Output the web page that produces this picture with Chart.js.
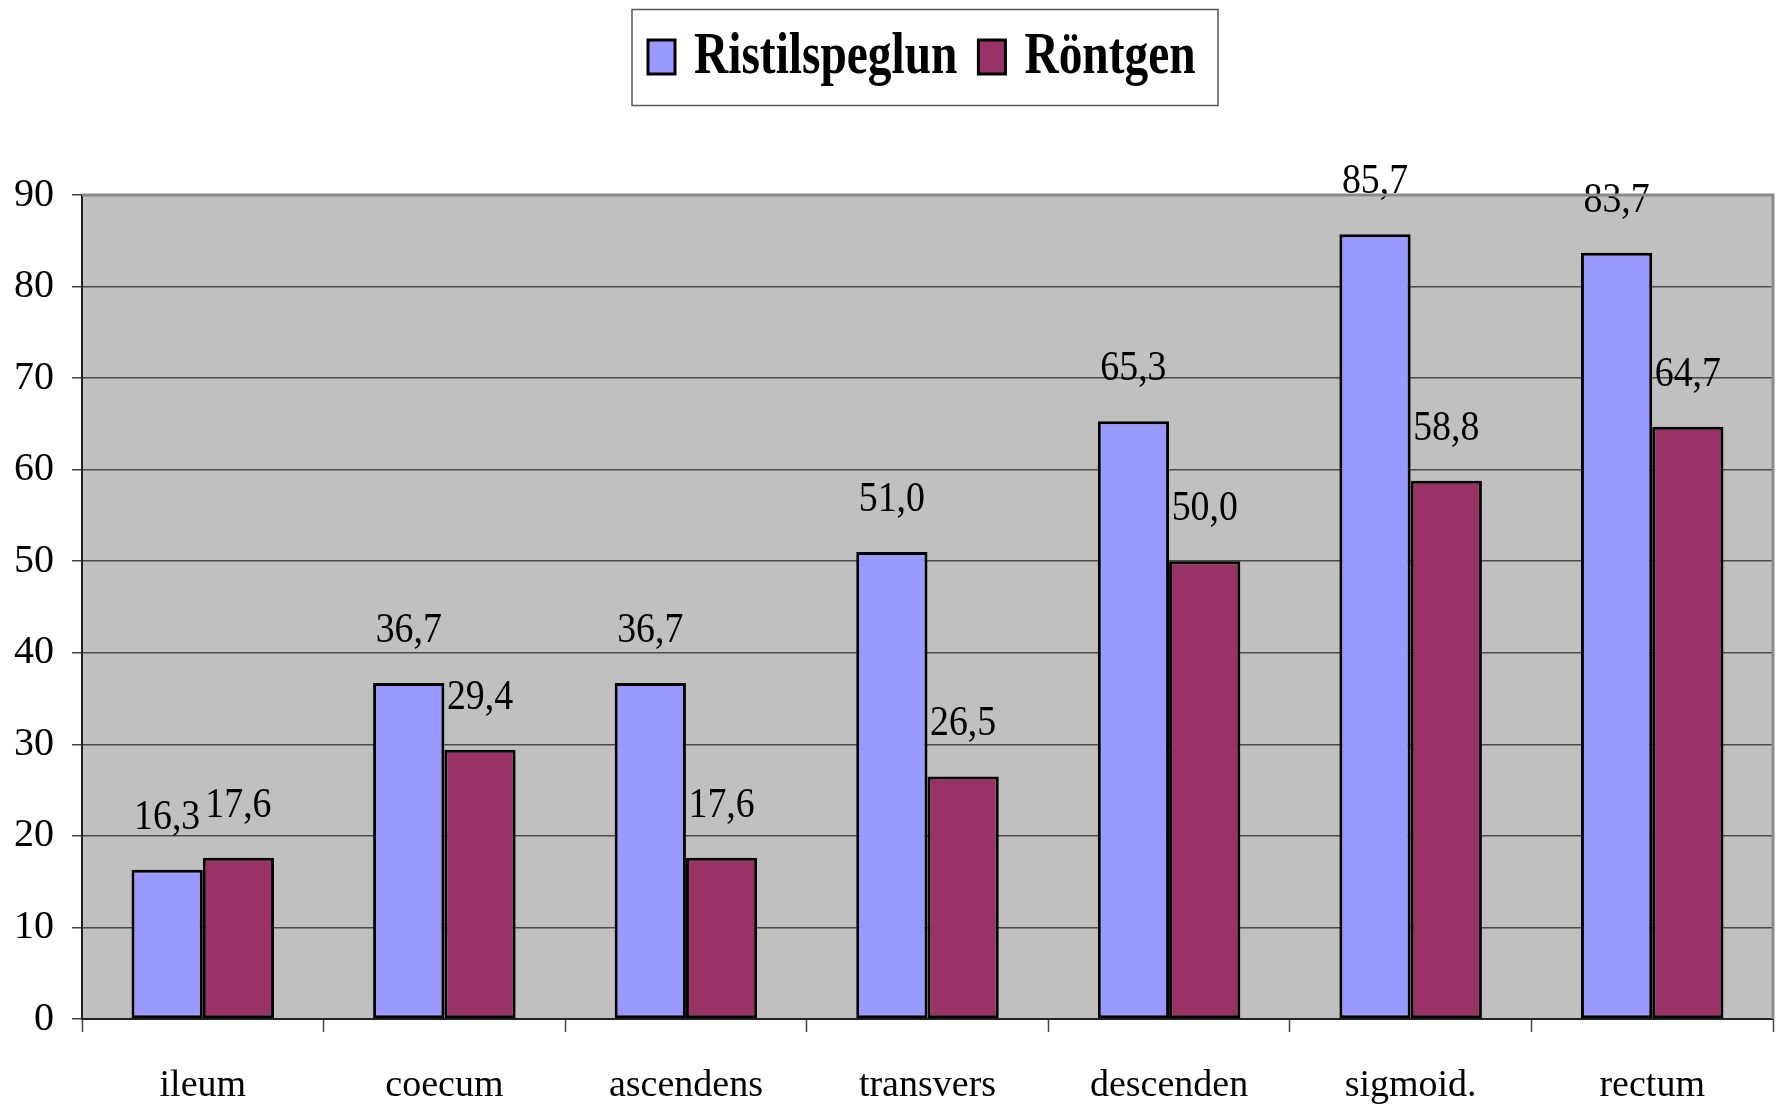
<!DOCTYPE html>
<html>
<head>
<meta charset="utf-8">
<script src="https://cdn.jsdelivr.net/npm/chart.js@4"></script>
<style>
    body { margin: 0; background: #ffffff; }
    #wrap { width: 1777px; height: 1107px; }
</style>
</head>
<body>
<div id="wrap"><canvas id="colonChart" width="1777" height="1107"></canvas></div>
<script>
// data
const categories = ['ileum', 'coecum', 'ascendens', 'transvers', 'descenden', 'sigmoid.', 'rectum'];
const ristilValues = [16.3, 36.7, 36.7, 51.0, 65.3, 85.7, 83.7];
const rontgenValues = [17.6, 29.4, 17.6, 26.5, 50.0, 58.8, 64.7];
const seriesNames = ['Ristilspeglun', 'Röntgen'];
const yTicks = [0, 10, 20, 30, 40, 50, 60, 70, 80, 90];

const serif = "'Liberation Serif', 'Times New Roman', serif";

// grey plot background with the lighter frame on top and right
const plotBackground = {
    id: 'plotBackground',
    beforeDraw(chart) {
        const { ctx, chartArea: a } = chart;
        ctx.save();
        ctx.fillStyle = '#c0c0c0';
        ctx.fillRect(a.left, a.top, a.right - a.left, a.bottom - a.top);
        ctx.restore();
    },
    afterDraw(chart) {
        const { ctx, chartArea: a } = chart;
        ctx.save();
        ctx.strokeStyle = '#8a8a8a';
        ctx.lineWidth = 3;
        ctx.beginPath();
        ctx.moveTo(a.left, a.top);
        ctx.lineTo(a.right, a.top);
        ctx.lineTo(a.right, a.bottom);
        ctx.stroke();
        ctx.restore();
    }
};

// value labels above every bar, decimal comma, slightly narrow like the original
const valueLabels = {
    id: 'valueLabels',
    afterDatasetsDraw(chart) {
        const ctx = chart.ctx;
        ctx.save();
        ctx.font = '42px ' + serif;
        ctx.fillStyle = '#000000';
        ctx.textAlign = 'center';
        ctx.textBaseline = 'alphabetic';
        chart.data.datasets.forEach((ds, i) => {
            chart.getDatasetMeta(i).data.forEach((bar, j) => {
                const txt = ds.data[j].toFixed(1).replace('.', ',');
                ctx.save();
                ctx.translate(bar.x, bar.y - 41);
                ctx.scale(0.9, 1);
                ctx.fillText(txt, 0, 0);
                ctx.restore();
            });
        });
        ctx.restore();
    }
};

// boxed legend, narrow bold serif like the original
const boxedLegend = {
    id: 'boxedLegend',
    afterDraw(chart) {
        const ctx = chart.ctx;
        const squeeze = 0.79;
        ctx.save();
        ctx.strokeStyle = '#555555';
        ctx.lineWidth = 1.5;
        ctx.strokeRect(632, 9.5, 586, 96);

        ctx.font = 'bold 60px ' + serif;
        ctx.textBaseline = 'alphabetic';
        let x = 648;
        chart.data.datasets.forEach(ds => {
            ctx.fillStyle = ds.backgroundColor;
            ctx.fillRect(x, 40, 27, 34);
            ctx.strokeStyle = '#000000';
            ctx.lineWidth = 3;
            ctx.strokeRect(x, 40, 27, 34);
            const tx = x + 46;
            ctx.fillStyle = '#000000';
            ctx.save();
            ctx.translate(tx, 73);
            ctx.scale(squeeze, 1);
            ctx.fillText(ds.label, 0, 0);
            ctx.restore();
            x = tx + ctx.measureText(ds.label).width * squeeze + 21;
        });
        ctx.restore();
    }
};

new Chart(document.getElementById('colonChart'), {
    type: 'bar',
    data: {
        labels: categories,
        datasets: [
            {
                label: seriesNames[0],
                data: ristilValues,
                backgroundColor: '#9999ff',
                borderColor: '#000000',
                borderWidth: 3,
                borderSkipped: false
            },
            {
                label: seriesNames[1],
                data: rontgenValues,
                backgroundColor: '#993366',
                borderColor: '#000000',
                borderWidth: 3,
                borderSkipped: false
            }
        ]
    },
    options: {
        responsive: false,
        animation: false,
        devicePixelRatio: 1,
        categoryPercentage: 0.59,
        barPercentage: 1.0,
        layout: { padding: { top: 195, right: 4, left: 0, bottom: 0 } },
        plugins: {
            legend: { display: false },
            tooltip: { enabled: false }
        },
        scales: {
            x: {
                afterFit: s => { s.height = 88; },
                grid: {
                    offset: true,
                    drawOnChartArea: false,
                    drawTicks: true,
                    tickLength: 13,
                    tickColor: '#444444',
                    tickWidth: 1.5
                },
                border: { color: '#222222', width: 2 },
                ticks: {
                    color: '#000000',
                    padding: 31,
                    maxRotation: 0,
                    font: { family: serif, size: 38 }
                }
            },
            y: {
                min: 0,
                max: 90,
                afterFit: s => { s.width = 82; },
                afterBuildTicks: s => { s.ticks = yTicks.map(v => ({ value: v })); },
                grid: {
                    color: c => (c.tick && c.tick.value === 90) ? '#8a8a8a' : '#4a4a4a',
                    lineWidth: 1.5,
                    drawTicks: true,
                    tickLength: 10,
                    tickColor: '#444444'
                },
                border: { color: '#222222', width: 2 },
                ticks: {
                    color: '#000000',
                    padding: 18,
                    font: { family: serif, size: 40 }
                }
            }
        }
    },
    plugins: [plotBackground, valueLabels, boxedLegend]
});
</script>
</body>
</html>
